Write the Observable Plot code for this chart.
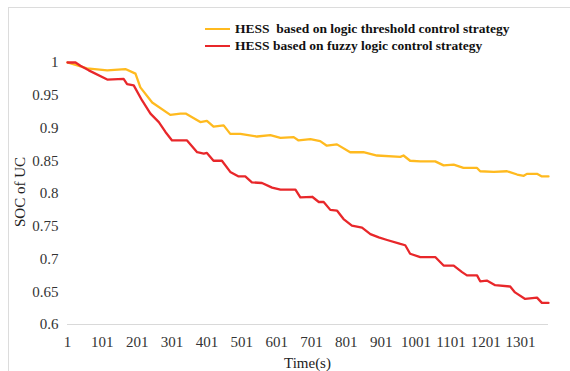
<!DOCTYPE html>
<html>
<head>
<meta charset="utf-8">
<script src="https://cdn.jsdelivr.net/npm/d3@7"></script>
<script src="https://cdn.jsdelivr.net/npm/@observablehq/plot@0.6"></script>
<style>
  html, body { margin: 0; padding: 0; background: #fff; }
  #wrap { position: relative; width: 570px; height: 371px; overflow: hidden; font-family: "Liberation Serif", "Times New Roman", serif; }
  #frame { position: absolute; left: 8px; top: 7px; width: 600px; height: 400px; border: 1.5px solid #dcdcdc; box-sizing: border-box; }
  #chart svg, #chart svg text { font-family: "Liberation Serif", "Times New Roman", serif !important; }
  .lg { position: absolute; font-weight: bold; font-size: 13.5px; color: #111; white-space: pre; line-height: 1; }
  .sw { position: absolute; height: 2px; width: 25px; }
  .ttl { position: absolute; font-size: 15px; color: #222; white-space: pre; }
</style>
</head>
<body>
<div id="wrap">
  <div id="frame"></div>
  <div id="chart" style="position:absolute;left:0;top:0;"></div>
</div>
<script>
// Series names
const seriesNames = [
  "HESS  based on logic threshold control strategy",
  "HESS based on fuzzy logic control strategy"
];
const seriesColors = ["#FFBA1F", "#E8272A"];

// Logic threshold strategy (orange): time, SOC
const thresholdTime = [1, 57, 115, 167, 196, 210, 244, 296, 325, 340, 382, 401, 420, 449, 468, 497, 545, 583, 612, 650, 664, 698, 726, 745, 774, 812, 850, 889, 956, 965, 984, 1013, 1056, 1080, 1109, 1137, 1176, 1185, 1224, 1262, 1291, 1310, 1319, 1348, 1362, 1381];
const thresholdSOC  = [1.0, 0.991, 0.988, 0.990, 0.983, 0.962, 0.939, 0.920, 0.922, 0.922, 0.909, 0.911, 0.902, 0.904, 0.891, 0.891, 0.887, 0.889, 0.885, 0.886, 0.881, 0.883, 0.880, 0.873, 0.875, 0.863, 0.863, 0.858, 0.856, 0.858, 0.850, 0.849, 0.849, 0.843, 0.844, 0.839, 0.839, 0.834, 0.833, 0.834, 0.829, 0.827, 0.830, 0.830, 0.826, 0.826];

// Fuzzy logic strategy (red): time, SOC
const fuzzyTime = [1, 24, 38, 62, 115, 162, 172, 191, 215, 239, 263, 282, 301, 344, 373, 392, 401, 420, 444, 468, 492, 511, 530, 559, 588, 612, 655, 669, 703, 722, 736, 755, 774, 793, 817, 846, 870, 894, 918, 956, 970, 984, 1013, 1056, 1080, 1109, 1133, 1147, 1176, 1185, 1204, 1228, 1271, 1285, 1314, 1348, 1362, 1381];
const fuzzySOC  = [1.0, 1.0, 0.995, 0.988, 0.974, 0.975, 0.967, 0.965, 0.942, 0.922, 0.909, 0.894, 0.881, 0.881, 0.863, 0.861, 0.862, 0.850, 0.850, 0.833, 0.826, 0.826, 0.817, 0.816, 0.809, 0.806, 0.806, 0.794, 0.795, 0.787, 0.787, 0.775, 0.774, 0.761, 0.751, 0.748, 0.738, 0.733, 0.729, 0.723, 0.721, 0.708, 0.703, 0.703, 0.690, 0.690, 0.680, 0.675, 0.675, 0.666, 0.667, 0.660, 0.658, 0.649, 0.639, 0.641, 0.633, 0.633];

// Tick values
const xTicks = [1, 101, 201, 301, 401, 501, 601, 701, 801, 901, 1001, 1101, 1201, 1301];
const yTicks = [0.6, 0.65, 0.7, 0.75, 0.8, 0.85, 0.9, 0.95, 1];

const xLabel = "Time(s)";
const yLabel = "SOC of UC";

const rows = [
  ...thresholdTime.map((t, i) => ({t, v: thresholdSOC[i], s: seriesNames[0]})),
  ...fuzzyTime.map((t, i) => ({t, v: fuzzySOC[i], s: seriesNames[1]}))
];

const plot = Plot.plot({
  width: 570,
  height: 371,
  marginLeft: 67,
  marginRight: 22,
  marginTop: 62,
  marginBottom: 47,
  style: { fontFamily: "Liberation Serif, serif", fontSize: "15px", color: "#333", background: "transparent" },
  x: { domain: [1, 1381], ticks: xTicks, tickFormat: d => String(d), tickSize: 0, tickPadding: 12, label: null },
  y: { domain: [0.6, 1], ticks: yTicks, tickFormat: d => String(+d.toFixed(2)), tickSize: 0, tickPadding: 9, label: null },
  color: { domain: seriesNames, range: seriesColors },
  marks: [
    Plot.ruleY([0.6], { stroke: "#d9d9d9", strokeWidth: 1.2 }),
    Plot.line(rows, { x: "t", y: "v", z: "s", stroke: "s", strokeWidth: 2.3, strokeLinejoin: "round" })
  ]
});
document.getElementById("chart").appendChild(plot);

const wrap = document.getElementById("wrap");
function addDiv(cls, text, css) {
  const d = document.createElement("div");
  d.className = cls;
  if (text) d.textContent = text;
  Object.assign(d.style, css);
  wrap.appendChild(d);
  return d;
}
// Legend
seriesNames.forEach((n, i) => {
  addDiv("sw", "", { left: "205px", top: (28 + i * 17) + "px", background: seriesColors[i] });
  addDiv("lg", n, { left: "235px", top: (22 + i * 17) + "px" });
});
// Axis titles
addDiv("ttl", xLabel, { left: "284px", top: "355px" });
addDiv("ttl", yLabel, { left: "20px", top: "192px", transform: "translate(-50%,-50%) rotate(-90deg)" });
</script>
</body>
</html>
